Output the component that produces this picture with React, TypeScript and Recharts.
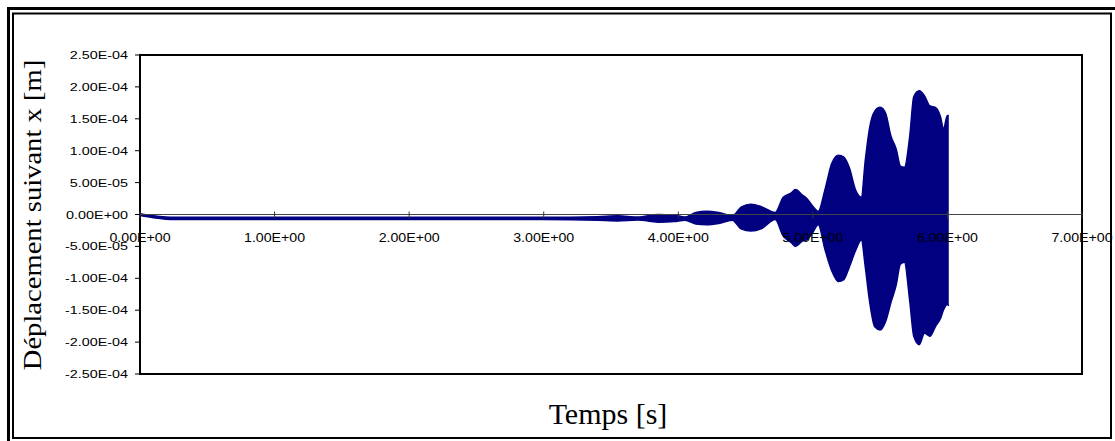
import React from 'react';
import { ComposedChart, Area, XAxis, YAxis, ReferenceLine, ReferenceArea } from 'recharts';

// time [s]
const times = [
  0, 0.1, 0.26, 1.0, 2.0, 3.0, 3.4, 3.55, 3.7, 3.85, 3.97,
  4.05, 4.13, 4.21, 4.3, 4.4, 4.47, 4.54, 4.62, 4.72, 4.78,
  4.84, 4.87, 4.92, 4.96, 5.0, 5.04, 5.09, 5.14, 5.19, 5.23,
  5.27, 5.32, 5.36, 5.39, 5.42, 5.46, 5.5, 5.54, 5.58, 5.62,
  5.65, 5.68, 5.72, 5.75, 5.79, 5.83, 5.87, 5.91, 5.95, 5.97,
  6.0, 6.01,
];
// upper / lower envelope of the displacement, in 1e-5 m
const upper = [
  0.1, -0.2, -0.45, -0.45, -0.45, -0.45, -0.35, -0.2, -0.4, 0, -0.1,
  -0.4, 0.3, 0.5, 0.3, -0.2, 1.2, 1.6, 1.2, 0.3, 2.7,
  3.4, 3.9, 3.1, 2.4, 1.3, 0.5, 3.9, 8.0, 9.3, 9.0,
  7.4, 3.7, 2.7, 8.6, 13.4, 16.2, 16.8, 15.9, 12.3, 10.2,
  7.6, 7.4, 12.3, 18.5, 19.4, 18.6, 17.0, 16.8, 15.2, 13.4,
  15.5, 15.5,
];
const lower = [
  -0.15, -0.5, -0.8, -0.8, -0.8, -0.8, -0.9, -1.0, -0.85, -1.2, -1.1,
  -0.9, -1.5, -1.6, -1.4, -0.9, -2.3, -2.6, -2.2, -0.8, -3.4,
  -4.4, -5.0, -4.2, -3.9, -2.8, -1.6, -5.5, -8.8, -10.5, -10.2,
  -8.3, -5.5, -4.0, -8.3, -13.4, -17.6, -18.1, -16.8, -13.8, -11.0,
  -7.8, -7.5, -13.6, -19.1, -20.4, -18.6, -19.1, -17.6, -16.2, -15.0,
  -14.1, -14.3,
];
const xTicks = [0, 1, 2, 3, 4, 5, 6, 7];
const yTicks = [-2.5e-4, -2e-4, -1.5e-4, -1e-4, -5e-5, 0, 5e-5, 1e-4, 1.5e-4, 2e-4, 2.5e-4];

const data = times.map((t, i) => ({ t, range: [lower[i] * 1e-5, upper[i] * 1e-5] }));

const W = 1115;
const H = 441;
const PLOT_TOP = 55;
const PLOT_BOTTOM = 374;
const PLOT_LEFT = 140;
const PLOT_RIGHT = 1082;
const Y_MIN = -2.5e-4;
const Y_MAX = 2.5e-4;
const YAXIS_W = 60;
const XAXIS_H = 30;
const ZERO_Y = PLOT_TOP + ((PLOT_BOTTOM - PLOT_TOP) * Y_MAX) / (Y_MAX - Y_MIN);

const SANS = '"Liberation Sans", Arial, sans-serif';
const SERIF = '"Liberation Serif", "Times New Roman", serif';

// Excel style scientific notation: 2.50E-04
const fmt = (v: number) => {
  const [m, e] = v.toExponential(2).split('e');
  const n = Math.abs(parseInt(e, 10));
  return `${m}E${e[0]}${n < 10 ? '0' + n : n}`;
};

const YTick = (props: any) => {
  const { x, y, payload } = props;
  return (
    <text
      transform={`translate(${x},${y + 4}) scale(1.25,1)`}
      textAnchor="end"
      fontFamily={SANS}
      fontSize={11.5}
      fill="#000"
    >
      {fmt(payload.value)}
    </text>
  );
};

// x labels sit under the zero line (axis crosses at 0)
const XTick = (props: any) => {
  const { x, payload } = props;
  return (
    <g>
      <line x1={x} x2={x} y1={ZERO_Y - 3} y2={ZERO_Y + 4} stroke="#333" />
      <text
        transform={`translate(${x},${ZERO_Y + 27}) scale(1.05,1)`}
        textAnchor="middle"
        fontFamily={SANS}
        fontSize={13.5}
        fill="#000"
      >
        {fmt(payload.value)}
      </text>
    </g>
  );
};

export default function App() {
  return (
    <div style={{ position: 'absolute', left: 0, top: 0, width: W, height: H, background: '#fff' }}>
      <ComposedChart
        width={W}
        height={H}
        data={data}
        margin={{
          top: PLOT_TOP,
          right: W - PLOT_RIGHT,
          left: PLOT_LEFT - YAXIS_W,
          bottom: H - PLOT_BOTTOM - XAXIS_H,
        }}
      >
        <XAxis
          dataKey="t"
          type="number"
          domain={[0, 7]}
          ticks={xTicks}
          interval={0}
          height={XAXIS_H}
          axisLine={false}
          tickLine={false}
          tick={<XTick />}
        />
        <YAxis
          type="number"
          domain={[Y_MIN, Y_MAX]}
          ticks={yTicks}
          interval={0}
          width={YAXIS_W}
          axisLine={false}
          tickLine={{ stroke: '#000' }}
          tickSize={5}
          tickMargin={7}
          tick={<YTick />}
        />
        <ReferenceLine y={0} stroke="#444" strokeWidth={1} />
        <Area
          type="monotone"
          dataKey="range"
          stroke="#000080"
          strokeWidth={1.5}
          fill="#000080"
          fillOpacity={1}
          dot={false}
          activeDot={false}
          isAnimationActive={false}
        />
        <ReferenceArea
          x1={0}
          x2={7}
          y1={Y_MIN}
          y2={Y_MAX}
          fill="none"
          fillOpacity={0}
          stroke="#000"
          strokeWidth={2}
        />
      </ComposedChart>

      {/* frame and axis titles */}
      <svg
        width={W}
        height={H}
        style={{ position: 'absolute', left: 0, top: 0, pointerEvents: 'none' }}
      >
        <rect x={8.5} y={8.5} width={1120} height={450} fill="none" stroke="#000" strokeWidth={3} />
        <rect x={13} y={13.5} width={1098} height={424.5} fill="none" stroke="#000" strokeWidth={2} />
        <text
          transform={`translate(41,215) rotate(-90) scale(1.1,1)`}
          textAnchor="middle"
          fontFamily={SERIF}
          fontSize={26}
          fill="#000"
        >
          Déplacement suivant x [m]
        </text>
        <text
          transform="translate(608,424)"
          textAnchor="middle"
          fontFamily={SERIF}
          fontSize={30}
          fill="#000"
        >
          Temps [s]
        </text>
      </svg>
    </div>
  );
}
